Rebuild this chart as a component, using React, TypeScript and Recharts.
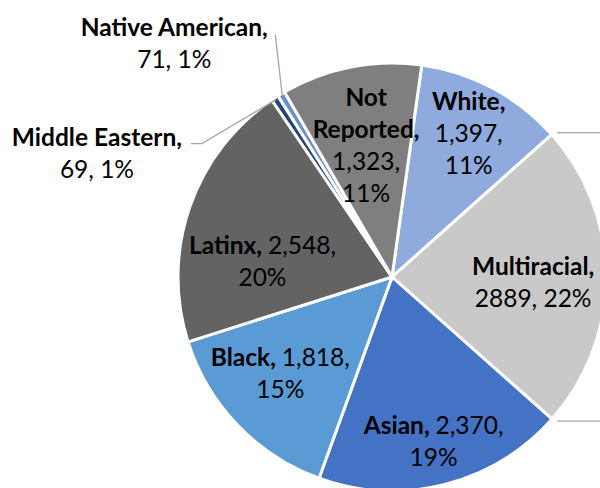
import React from 'react';
import { Cell, Pie, PieChart } from 'recharts';

const names = [
  'White',
  'Multiracial',
  'Asian',
  'Black',
  'Latinx',
  'Middle Eastern',
  'Native American',
  'Not Reported',
];
const counts = [1397, 2889, 2370, 1818, 2548, 69, 71, 1323];
const countLabels = ['1,397', '2889', '2,370', '1,818', '2,548', '69', '71', '1,323'];
const percentLabels = ['11%', '22%', '19%', '15%', '20%', '1%', '1%', '11%'];
const colors = ['#8FAADC', '#C9C9C9', '#4472C4', '#5B9BD5', '#636363', '#264478', '#698ED0', '#7F7F7F'];

const data = names.map((name, i) => ({
  name,
  value: counts[i],
  countLabel: countLabels[i],
  percentLabel: percentLabels[i],
}));

const RADIAN = Math.PI / 180;
const FONT = 'Lato, "Open Sans", sans-serif';
const FONT_SIZE = 24.5;
const LINE = 32;

type Seg = { text: string; bold?: boolean };

// how each label is laid out (radius as share of pie radius, small angle nudges)
const placement: Record<string, any> = {
  White: { r: 0.76, shape: 'stack' },
  Multiracial: { r: 0.66, turn: -2, shape: 'pair' },
  Asian: { r: 0.79, shape: 'wide' },
  Black: { r: 0.69, turn: -3, shape: 'wide' },
  Latinx: { r: 0.61, turn: 12, shape: 'wide' },
  'Middle Eastern': { outside: true, elbow: [-74, 44], end: [-11, 0], text: [-94, 10] },
  'Native American': { outside: true, elbow: [-7, -61], end: [0, 0], text: [-101, 9] },
  'Not Reported': { r: 0.63, shape: 'stack' },
};

const buildLines = (p: any, shape: string): Seg[][] => {
  const name: string = p.name;
  if (shape === 'stack') {
    const words = name.split(' ');
    const nameLines = words.map((w, i) => [{ text: i === words.length - 1 ? w + ',' : w, bold: true }]);
    return [...nameLines, [{ text: p.countLabel + ',' }], [{ text: p.percentLabel }]];
  }
  if (shape === 'wide') {
    return [
      [
        { text: name + ', ', bold: true },
        { text: p.countLabel + ',' },
      ],
      [{ text: p.percentLabel }],
    ];
  }
  return [[{ text: name + ',', bold: true }], [{ text: `${p.countLabel}, ${p.percentLabel}` }]];
};

const TextBlock = ({ x, y, lines }: { x: number; y: number; lines: Seg[][] }) => {
  const top = y - ((lines.length - 1) * LINE) / 2;
  return (
    <text
      textAnchor="middle"
      fontFamily={FONT}
      fontSize={FONT_SIZE}
      fill="#000"
      style={{ whiteSpace: 'pre' }}
    >
      {lines.map((segs, i) => (
        <tspan key={i} x={x} y={top + i * LINE + FONT_SIZE * 0.36}>
          {segs.map((s, j) => (
            <tspan key={j} fontWeight={s.bold ? 700 : 400}>
              {s.text}
            </tspan>
          ))}
        </tspan>
      ))}
    </text>
  );
};

const polar = (cx: number, cy: number, r: number, angle: number) => ({
  x: cx + r * Math.cos(-angle * RADIAN),
  y: cy + r * Math.sin(-angle * RADIAN),
});

const renderLabel = (props: any) => {
  const { cx, cy, midAngle, outerRadius, startAngle, endAngle, payload } = props;
  const p = payload?.payload ?? payload ?? props;
  const name = p.name ?? props.name;
  const cfg = placement[name];
  if (!cfg) return null;

  if (cfg.outside) {
    const edge = polar(cx, cy, outerRadius - 2, midAngle);
    const elbow = { x: edge.x + cfg.elbow[0], y: edge.y + cfg.elbow[1] };
    const end = { x: elbow.x + cfg.end[0], y: elbow.y + cfg.end[1] };
    return (
      <g key={name}>
        <polyline
          points={`${edge.x},${edge.y} ${elbow.x},${elbow.y} ${end.x},${end.y}`}
          fill="none"
          stroke="#A6A6A6"
          strokeWidth={1.3}
        />
        <TextBlock
          x={end.x + cfg.text[0]}
          y={end.y + cfg.text[1]}
          lines={[[{ text: name + ',', bold: true }], [{ text: `${p.countLabel}, ${p.percentLabel}` }]]}
        />
      </g>
    );
  }

  const pos = polar(cx, cy, outerRadius * cfg.r, midAngle + (cfg.turn || 0));
  const lines = buildLines({ ...p, name }, cfg.shape);
  let extra = null;
  if (name === 'Multiracial') {
    // leader stubs leaving the right edge of the chart
    const a = polar(cx, cy, outerRadius, startAngle);
    const b = polar(cx, cy, outerRadius, endAngle);
    extra = (
      <g>
        <line x1={a.x + 5} y1={a.y - 2} x2={600} y2={a.y - 2} stroke="#A6A6A6" strokeWidth={1.3} />
        <line x1={b.x + 5} y1={b.y + 2} x2={600} y2={b.y + 2} stroke="#A6A6A6" strokeWidth={1.3} />
      </g>
    );
  }
  return (
    <g key={name}>
      {extra}
      <TextBlock x={pos.x} y={pos.y} lines={lines} />
    </g>
  );
};

export default function App() {
  return (
    <div style={{ position: 'absolute', left: 0, top: 0, width: 600, height: 488, background: '#fff', overflow: 'hidden' }}>
      <PieChart width={600} height={488} margin={{ top: 0, right: 0, bottom: 0, left: 0 }}>
        <Pie
          data={data}
          dataKey="value"
          nameKey="name"
          cx={392}
          cy={277}
          outerRadius={214}
          startAngle={82}
          endAngle={-278}
          label={renderLabel}
          labelLine={false}
          isAnimationActive={false}
        >
          {data.map((d, i) => (
            <Cell key={d.name} fill={colors[i]} stroke="#fff" strokeWidth={3} />
          ))}
        </Pie>
      </PieChart>
    </div>
  );
}
